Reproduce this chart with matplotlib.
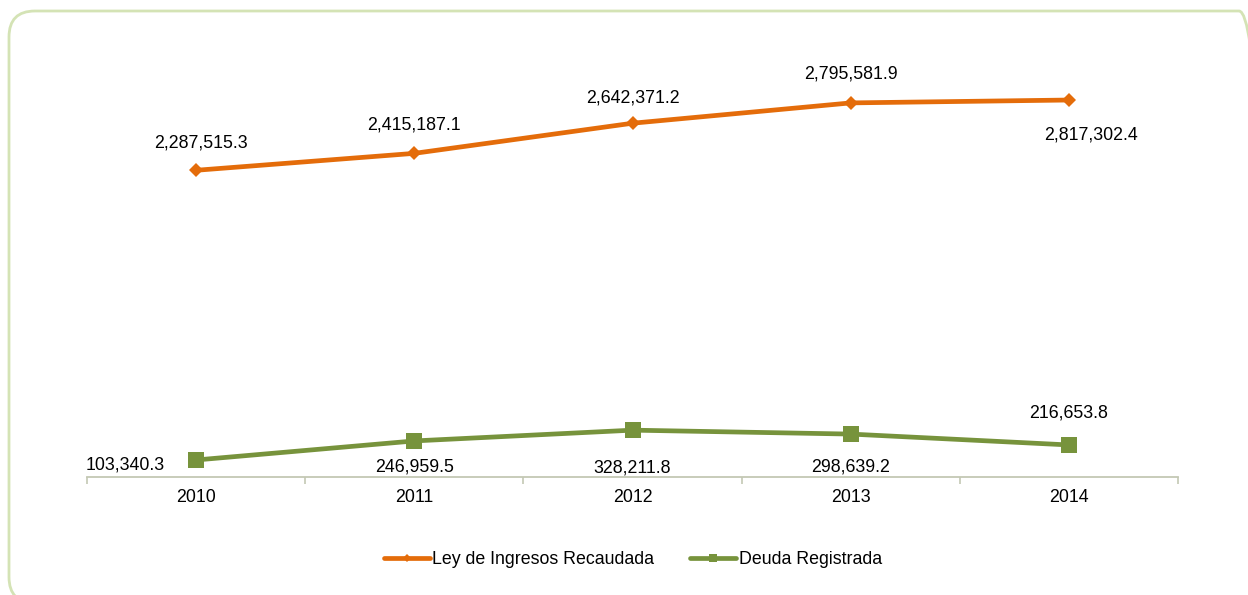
import matplotlib.pyplot as plt
import matplotlib.transforms as mtransforms
from matplotlib.patches import FancyBboxPatch

plt.rcParams['font.family'] = ['Liberation Sans', 'DejaVu Sans']

# Data
years = ['2010', '2011', '2012', '2013', '2014']
ley_ingresos = [2287515.3, 2415187.1, 2642371.2, 2795581.9, 2817302.4]
deuda = [103340.3, 246959.5, 328211.8, 298639.2, 216653.8]

# label offsets (pixels) and alignment
ley_offsets = [(5, 27), (0, 28), (0, 25), (0, 29), (22, -35)]
deuda_offsets = [(-31, -5), (0, -26), (0, -38), (0, -33), (0, 32)]
deuda_ha = ['right', 'center', 'center', 'center', 'center']

orange = '#E46C0A'
green = '#77933C'
fs = 12.8

fig = plt.figure(figsize=(12.48, 5.95), dpi=100)
ax = fig.add_axes([87 / 1248, 1 - 477 / 595, (1178 - 87) / 1248, (477 - 36) / 595])

x = list(range(len(years)))
ax.plot(x, ley_ingresos, color=orange, lw=3.4, marker='D', ms=7.5, mew=0,
        label='Ley de Ingresos Recaudada', solid_capstyle='round')
ax.plot(x, deuda, color=green, lw=3.4, marker='s', ms=11, mew=0,
        label='Deuda Registrada', solid_capstyle='round')

for i, v in enumerate(ley_ingresos):
    ax.annotate(f'{v:,.1f}', (i, v), xytext=ley_offsets[i], textcoords='offset pixels',
                ha='center', va='center', fontsize=fs, color='black')
for i, v in enumerate(deuda):
    ax.annotate(f'{v:,.1f}', (i, v), xytext=deuda_offsets[i], textcoords='offset pixels',
                ha=deuda_ha[i], va='center', fontsize=fs, color='black')

ax.set_xlim(-0.5, len(years) - 0.5)
ax.set_ylim(-25000, 3300000)

for s in ['top', 'right', 'left']:
    ax.spines[s].set_visible(False)
ax.spines['bottom'].set_color('#C4C8B4')
ax.spines['bottom'].set_linewidth(1.3)
ax.set_yticks([])

ax.set_xticks(x)
ax.set_xticklabels(years, fontsize=fs)
ax.tick_params(axis='x', which='major', length=0, pad=9)
ax.set_xticks([i - 0.5 for i in range(len(years) + 1)], minor=True)
ax.tick_params(axis='x', which='minor', length=5, width=1.2, color='#C4C8B4', direction='out')

leg = fig.legend(loc='center', bbox_to_anchor=(0.507, 0.059), ncol=2, frameon=False,
                 fontsize=fs, handlelength=2.6, handletextpad=0.15, columnspacing=2.0,
                 markerscale=0.55)

# rounded border of chart area
border = FancyBboxPatch((9, -8), 1256, 592, boxstyle='round,pad=0,rounding_size=26',
                        transform=mtransforms.IdentityTransform(), fill=False,
                        edgecolor='#D4E3B5', linewidth=2.0, zorder=0)
fig.patches.append(border)

fig.savefig('out.png', dpi=100)
